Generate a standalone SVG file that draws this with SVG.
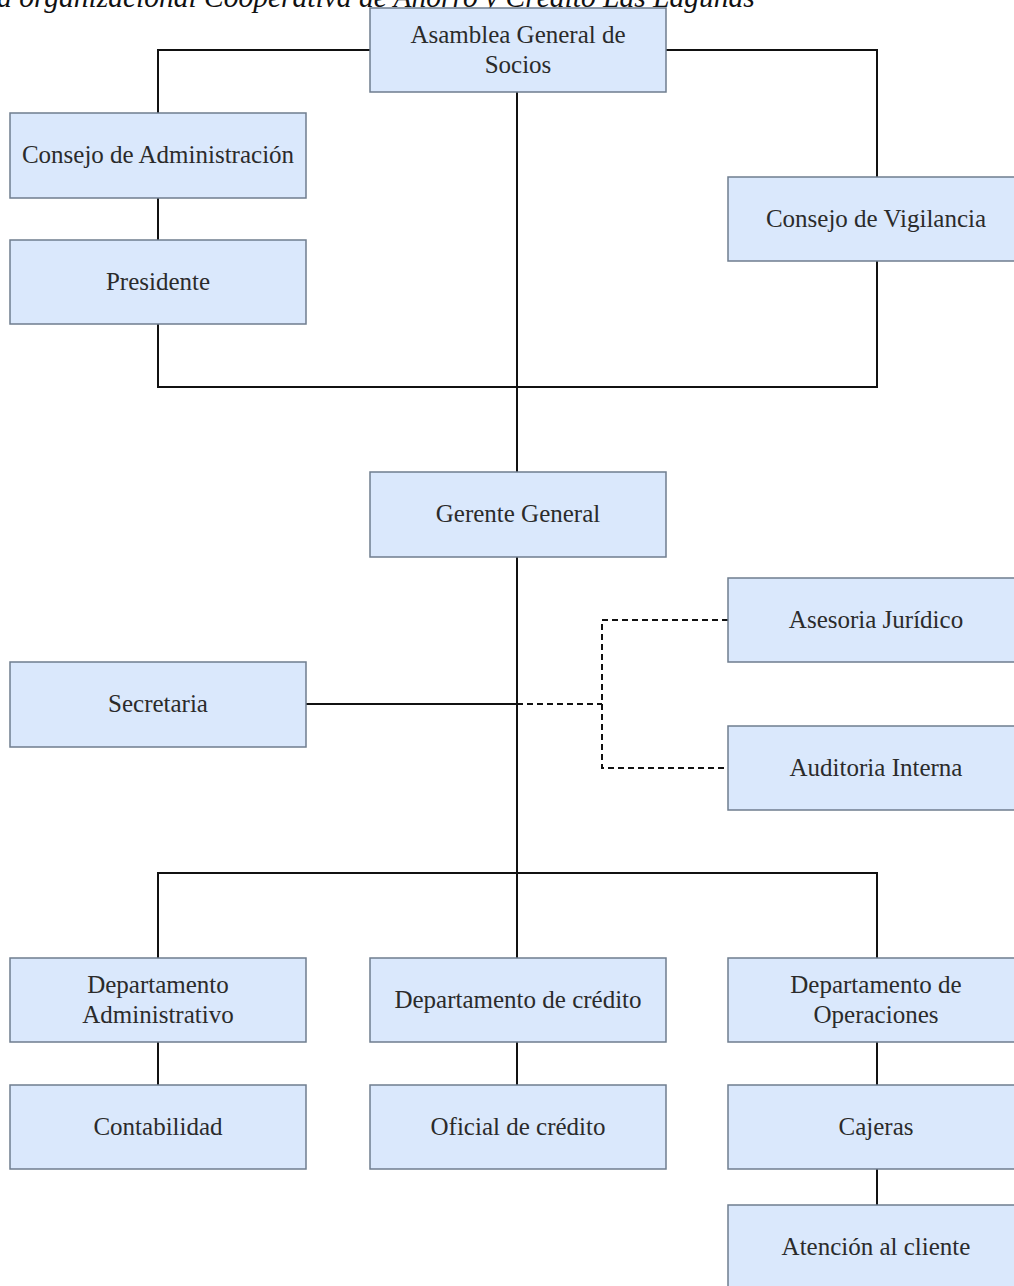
<svg xmlns="http://www.w3.org/2000/svg" width="1014" height="1286" viewBox="0 0 1014 1286">
<style>
.box{fill:#dae8fc;stroke:#6f7d8f;stroke-width:1.5}
.t{font-family:'Liberation Serif','Times New Roman',Times,'DejaVu Serif',serif;font-size:25px;fill:#2b2b2b;text-anchor:middle}
.ln{fill:none;stroke:#111;stroke-width:2}
.ds{fill:none;stroke:#111;stroke-width:2;stroke-dasharray:6 4}
.title{font-family:'Liberation Serif','Times New Roman',Times,'DejaVu Serif',serif;font-style:italic;font-size:29.5px;fill:#111}
</style>
<rect width="1014" height="1286" fill="#fff"/>
<text class="title" x="-3" y="7">a organizacional Cooperativa de Ahorro y Crédito Las Lagunas</text>
<g id="connectors">
<polyline class="ln" points="370,50 158,50 158,113"/>
<polyline class="ln" points="666,50 877,50 877,177"/>
<line class="ln" x1="158" y1="198" x2="158" y2="240"/>
<polyline class="ln" points="158,324 158,387 877,387 877,261"/>
<line class="ln" x1="517" y1="92" x2="517" y2="472"/>
<line class="ln" x1="517" y1="557" x2="517" y2="958"/>
<line class="ln" x1="306" y1="704" x2="517" y2="704"/>
<polyline class="ln" points="158,958 158,873 877,873 877,958"/>
<line class="ds" x1="517" y1="704" x2="602" y2="704"/>
<polyline class="ds" points="728,620 602,620 602,768 728,768"/>
<line class="ln" x1="158" y1="1042" x2="158" y2="1085"/>
<line class="ln" x1="517" y1="1042" x2="517" y2="1085"/>
<line class="ln" x1="877" y1="1042" x2="877" y2="1085"/>
<line class="ln" x1="877" y1="1169" x2="877" y2="1205"/>
</g>
<g id="asamblea"><rect class="box" x="370" y="8" width="296" height="84"/><text class="t" x="518" y="43">Asamblea General de</text><text class="t" x="518" y="73">Socios</text></g>
<g id="consejo-admin"><rect class="box" x="10" y="113" width="296" height="85"/><text class="t" x="158" y="163">Consejo de Administración</text></g>
<g id="presidente"><rect class="box" x="10" y="240" width="296" height="84"/><text class="t" x="158" y="290">Presidente</text></g>
<g id="consejo-vigilancia"><rect class="box" x="728" y="177" width="300" height="84"/><text class="t" x="876" y="227">Consejo de Vigilancia</text></g>
<g id="gerente"><rect class="box" x="370" y="472" width="296" height="85"/><text class="t" x="518" y="522">Gerente General</text></g>
<g id="asesoria"><rect class="box" x="728" y="578" width="300" height="84"/><text class="t" x="876" y="628">Asesoria Jurídico</text></g>
<g id="secretaria"><rect class="box" x="10" y="662" width="296" height="85"/><text class="t" x="158" y="712">Secretaria</text></g>
<g id="auditoria"><rect class="box" x="728" y="726" width="300" height="84"/><text class="t" x="876" y="776">Auditoria Interna</text></g>
<g id="dep-admin"><rect class="box" x="10" y="958" width="296" height="84"/><text class="t" x="158" y="993">Departamento</text><text class="t" x="158" y="1023">Administrativo</text></g>
<g id="dep-credito"><rect class="box" x="370" y="958" width="296" height="84"/><text class="t" x="518" y="1008">Departamento de crédito</text></g>
<g id="dep-operaciones"><rect class="box" x="728" y="958" width="300" height="84"/><text class="t" x="876" y="993">Departamento de</text><text class="t" x="876" y="1023">Operaciones</text></g>
<g id="contabilidad"><rect class="box" x="10" y="1085" width="296" height="84"/><text class="t" x="158" y="1135">Contabilidad</text></g>
<g id="oficial-credito"><rect class="box" x="370" y="1085" width="296" height="84"/><text class="t" x="518" y="1135">Oficial de crédito</text></g>
<g id="cajeras"><rect class="box" x="728" y="1085" width="300" height="84"/><text class="t" x="876" y="1135">Cajeras</text></g>
<g id="atencion"><rect class="box" x="728" y="1205" width="300" height="90"/><text class="t" x="876" y="1255">Atención al cliente</text></g>
</svg>
